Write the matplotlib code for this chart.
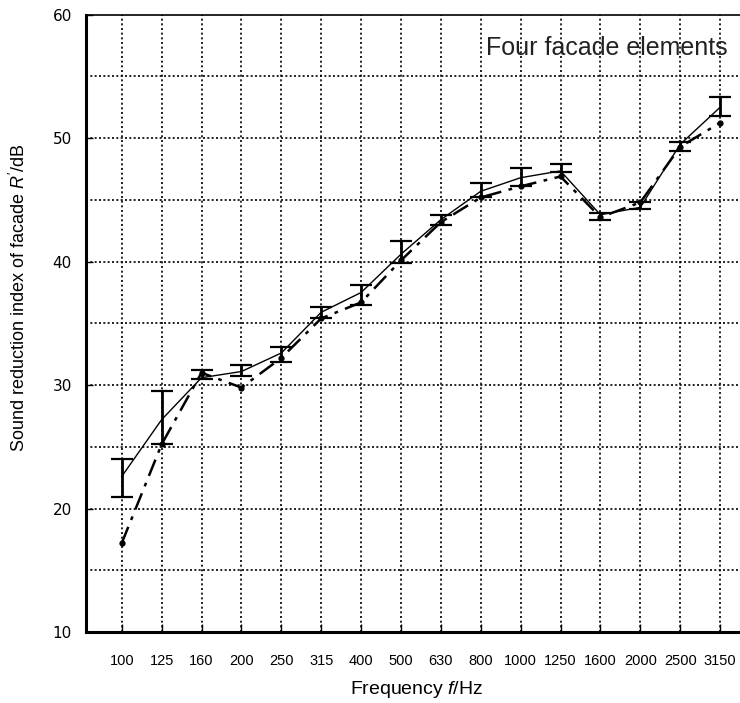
import matplotlib
matplotlib.use("Agg")
import matplotlib.pyplot as plt
import numpy as np

plt.rcParams["mathtext.fontset"] = "custom"
plt.rcParams["mathtext.rm"] = "Liberation Sans"
plt.rcParams["mathtext.it"] = "Liberation Sans:italic"
plt.rcParams["mathtext.bf"] = "Liberation Sans:bold"

freqs = ["100", "125", "160", "200", "250", "315", "400", "500", "630",
         "800", "1000", "1250", "1600", "2000", "2500", "3150"]
measured = [22.6, 27.2, 30.6, 31.1, 32.6, 35.9, 37.5, 40.6, 43.4,
            45.7, 46.8, 47.35, 43.8, 44.4, 49.5, 52.5]
err_low = [20.9, 25.2, 30.5, 30.7, 31.9, 35.4, 36.5, 39.9, 43.0,
           45.2, 46.1, 47.3, 43.4, 44.3, 49.0, 51.8]
err_high = [24.0, 29.5, 31.2, 31.6, 33.1, 36.3, 38.1, 41.7, 43.8,
            46.4, 47.6, 47.9, 43.95, 44.85, 49.7, 53.3]
predicted = [17.2, 25.2, 31.0, 29.8, 32.2, 35.4, 36.7, 40.1, 43.2,
             45.2, 46.1, 46.9, 43.6, 44.8, 49.3, 51.25]
yticks = [10, 20, 30, 40, 50, 60]

fig = plt.figure(figsize=(7.40, 7.03), dpi=100)
ax = fig.add_axes([0.116, 0.101, 0.884, 0.878])

x = np.arange(len(freqs))
m = np.array(measured)
yerr = np.vstack([m - np.array(err_low), np.array(err_high) - m])

ax.plot(x, predicted, color="black", lw=1.8, linestyle=(0, (7, 3, 1.5, 3)),
        marker="o", markersize=3.5, zorder=3)
ax.errorbar(x, measured, yerr=yerr, color="black", lw=1.0, elinewidth=2.0,
            capsize=8, capthick=1.6, zorder=4)

ax.set_xlim(-0.9, 15.5)
ax.set_ylim(10, 60)
ax.set_xticks(x)
ax.set_xticklabels(freqs, fontsize=10.5,
                   family=["Liberation Sans", "DejaVu Sans"])
ax.set_yticks(yticks)
ax.set_yticklabels([str(v) for v in yticks], fontsize=11, family="DejaVu Sans")

for v in range(15, 60, 5):
    ax.axhline(v, color="black", lw=1.2, linestyle=(0, (1.2, 1.4)), zorder=1)
for xi in x:
    ax.axvline(xi, color="black", lw=1.2, linestyle=(0, (1.2, 1.6)), zorder=1)

ax.tick_params(axis="x", direction="in", length=6, width=1, pad=16)
ax.tick_params(axis="y", direction="in", length=5, width=1, pad=10)

ax.spines["right"].set_visible(False)
ax.spines["left"].set_linewidth(2.2)
ax.spines["bottom"].set_linewidth(2.2)
ax.spines["top"].set_linewidth(1.2)

ax.text(15.18, 57.3, "Four facade elements", ha="right", va="center",
        fontsize=18, color="#222222", family=["Liberation Sans", "DejaVu Sans"])

fig.text(417 / 740, 1 - 690 / 703, "Frequency $f$/Hz", fontsize=14,
         ha="center", va="center", family=["Liberation Sans", "DejaVu Sans"])
fig.text(19 / 740, 1 - 298 / 703, "Sound reduction index of facade $R'$/dB",
         fontsize=13, ha="center", va="center", rotation=90,
         family=["Liberation Sans", "DejaVu Sans"])

fig.savefig("out.png", dpi=100)
